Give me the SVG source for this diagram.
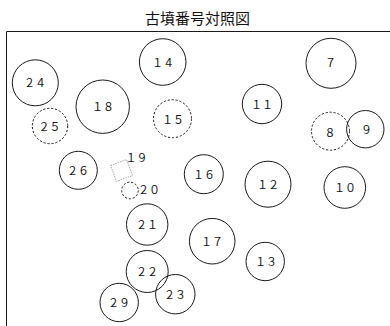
<svg xmlns="http://www.w3.org/2000/svg" width="390" height="326" viewBox="0 0 390 326">
<style>
.c{fill:none;stroke:#1a1a1a;stroke-width:1}
.d{fill:none;stroke:#1a1a1a;stroke-width:1;stroke-dasharray:2.2 1.8}
.t{font-family:"Noto Sans CJK JP","Noto Sans",sans-serif;font-size:11px;fill:#111;text-anchor:middle}
.title{font-family:"Noto Sans CJK JP",sans-serif;font-size:15px;fill:#111;text-anchor:middle}
</style>
<rect width="390" height="326" fill="#fff"/>
<text class="title" x="197.5" y="24">古墳番号対照図</text>
<path d="M6.5,326 V31.5 H390" fill="none" stroke="#1a1a1a" stroke-width="1"/>
<g id="n24"><circle class="c" cx="35.3" cy="82.8" r="23"/><text class="t" x="35" y="87">２４</text></g>
<g id="n14"><circle class="c" cx="162.7" cy="62" r="23.3"/><text class="t" x="163" y="67">１４</text></g>
<g id="n7"><circle class="c" cx="331" cy="63.3" r="25"/><text class="t" x="330.5" y="67">７</text></g>
<g id="n18"><circle class="c" cx="102.7" cy="106.7" r="26.7"/><text class="t" x="103" y="111">１８</text></g>
<g id="n11"><circle class="c" cx="262" cy="104" r="19.7"/><text class="t" x="262" y="108.5">１１</text></g>
<g id="n15"><circle class="d" cx="172.5" cy="118.7" r="19"/><text class="t" x="173" y="124">１５</text></g>
<g id="n25"><circle class="d" cx="50" cy="126" r="17.7"/><text class="t" x="49.5" y="131">２５</text></g>
<g id="n8"><circle class="d" cx="330.5" cy="131.2" r="19"/><text class="t" x="330" y="136.5">８</text></g>
<g id="n9"><circle class="c" cx="365.3" cy="129.2" r="18.7"/><text class="t" x="366.5" y="133.5">９</text></g>
<g id="n26"><circle class="c" cx="78.3" cy="170.3" r="19"/><text class="t" x="78" y="175">２６</text></g>
<g id="n19"><rect x="113" y="162" width="17" height="17" fill="none" stroke="#aaa" stroke-width="1" stroke-dasharray="1.5 1" transform="rotate(-20 121.5 170.5)"/><text class="t" x="136.5" y="162">１９</text></g>
<g id="n20"><circle class="d" cx="130" cy="190.5" r="8.3"/><text class="t" x="149" y="193.5">２０</text></g>
<g id="n16"><circle class="c" cx="203.8" cy="174.2" r="19.5"/><text class="t" x="204" y="179">１６</text></g>
<g id="n12"><circle class="c" cx="268" cy="184.2" r="23"/><text class="t" x="268" y="189">１２</text></g>
<g id="n10"><circle class="c" cx="344.8" cy="187.5" r="20.8"/><text class="t" x="345" y="192">１０</text></g>
<g id="n21"><circle class="c" cx="147.2" cy="224.5" r="20.7"/><text class="t" x="147" y="229">２１</text></g>
<g id="n17"><circle class="c" cx="212.2" cy="241.2" r="22.8"/><text class="t" x="212" y="245.5">１７</text></g>
<g id="n13"><circle class="c" cx="265.2" cy="261.5" r="19.2"/><text class="t" x="266" y="266">１３</text></g>
<g id="n22"><circle class="c" cx="147.2" cy="271.5" r="21"/><text class="t" x="147" y="276">２２</text></g>
<g id="n23"><circle class="c" cx="175.3" cy="294.2" r="19.7"/><text class="t" x="175" y="299">２３</text></g>
<g id="n29"><circle class="c" cx="119.2" cy="302.5" r="19.2"/><text class="t" x="119" y="307">２９</text></g>
<g id="connectors"/>
</svg>
